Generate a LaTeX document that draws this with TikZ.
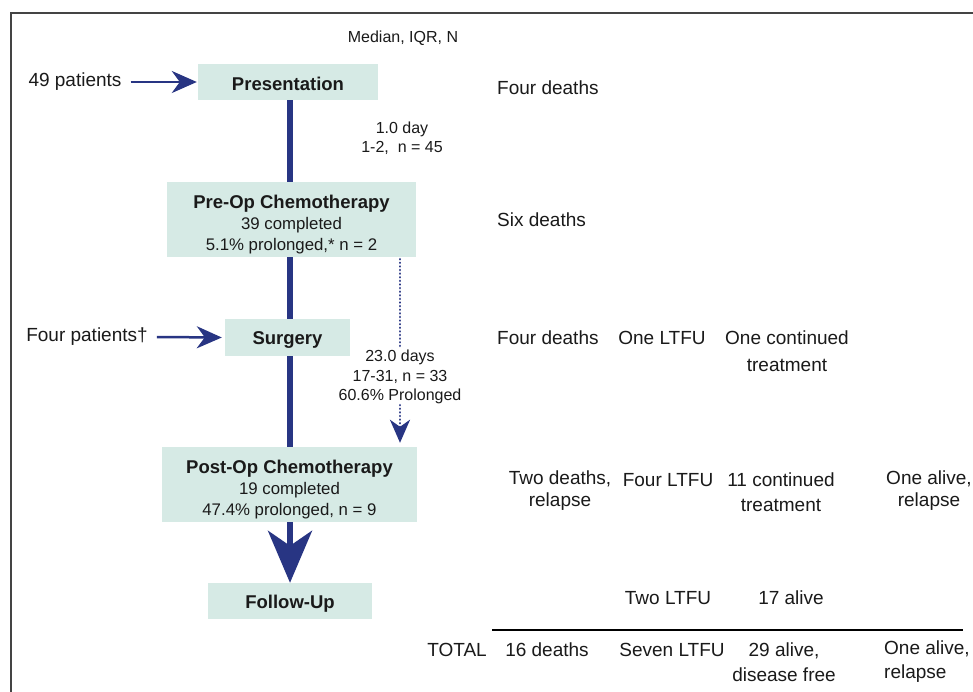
\documentclass[tikz,border=0pt]{standalone}
\usepackage{fontspec}
\setmainfont{Liberation Sans}
\usetikzlibrary{arrows.meta}
\definecolor{navy}{HTML}{283583}
\definecolor{boxfill}{HTML}{D6EAE5}
\definecolor{ink}{HTML}{1A1A1A}
\definecolor{framegray}{HTML}{444444}
\newcommand\boxtitlefont{\fontsize{18.5}{22}\selectfont\bfseries}
\newcommand\boxbodyfont{\fontsize{16.8}{21}\selectfont}
\begin{document}
\begin{tikzpicture}[x=1pt,y=-1pt,
  box/.style={fill=boxfill, inner sep=0pt},
  boxtxt/.style={inner sep=0pt, align=center, text=ink, font=\boxbodyfont},
  big/.style={font=\fontsize{19}{24}\selectfont, text=ink, inner sep=0pt, align=center},
  small/.style={font=\fontsize{16}{19.5}\selectfont, text=ink, inner sep=0pt, align=center},
  spine/.style={draw=navy, line width=5.5pt},
  feed/.style={draw=navy, line width=2.5pt, -{Stealth[length=25pt,width=22pt,inset=8pt]}},
  bigarrow/.style={draw=navy, line width=5.5pt, -{Stealth[length=52pt,width=44pt,inset=15pt]}},
  dotline/.style={draw=navy, line width=2.6pt, line cap=round, dash pattern=on 0.01pt off 3.6pt},
  dotarrow/.style={dotline, -{Stealth[length=23pt,width=20pt,inset=7pt]}}
]
\useasboundingbox (0,0) rectangle (973,692);
\clip (0,0) rectangle (973,692);
\fill[white] (0,0) rectangle (973,692);
\draw[framegray, line width=1.5pt] (11,700) -- (11,13) -- (985,13);

\coordinate (sp) at (290,0);
\coordinate (dx) at (400,0);

\node[small] (hdr) at (403,38) {Median, IQR, N};

% boxes
\node[box, minimum width=180pt, minimum height=36pt] (pres) at (288,82) {};
\node[boxtxt, font=\boxtitlefont] (presT) at ([yshift=-1.5pt]pres.center) {Presentation};
\node[box, minimum width=249pt, minimum height=75pt] (preop) at (291.5,219.5) {};
\node[boxtxt] (preopT) at ([yshift=-5pt]preop.center)
  {{\boxtitlefont Pre-Op Chemotherapy}\\39 completed\\5.1\% prolonged,* n = 2};
\node[box, minimum width=125pt, minimum height=37pt] (surg) at (287.5,337.5) {};
\node[boxtxt, font=\boxtitlefont] (surgT) at ([yshift=-3pt]surg.center) {Surgery};
\node[box, minimum width=255pt, minimum height=75pt] (postop) at (289.5,484.5) {};
\node[boxtxt] (postopT) at ([yshift=-5pt]postop.center)
  {{\boxtitlefont Post-Op Chemotherapy}\\19 completed\\47.4\% prolonged, n = 9};
\node[box, minimum width=164pt, minimum height=36pt] (fu) at (290,601) {};
\node[boxtxt, font=\boxtitlefont] (fuT) at ([yshift=-3pt]fu.center) {Follow-Up};

% spine
\draw[spine] (pres.south -| sp) -- (preop.north -| sp);
\draw[spine] (preop.south -| sp) -- (surg.north -| sp);
\draw[spine] (surg.south -| sp) -- (postop.north -| sp);
\draw[bigarrow] (postop.south -| sp) -- (fu.north -| sp);

% feeds
\node[big] (p49) at (75,82) {49 patients};
\draw[feed] ([xshift=9pt]p49.east) -- ([xshift=-1pt]pres.west);
\node[big] (p4) at (87,337) {Four patients†};
\draw[feed] ([xshift=9pt]p4.east) -- ([xshift=-3pt]surg.west);

% interval labels
\node[small] (int1) at (402,138) {1.0 day\\1-2,\ \ n = 45};
\node[small] (int2) at (400,377) {23.0 days\\17-31, n = 33\\60.6\% Prolonged};
\draw[dotline] ([yshift=-2pt]preop.south -| dx) -- ([yshift=1pt]int2.north -| dx);
\draw[dotarrow] ([yshift=-1pt]int2.south -| dx) -- ([yshift=4pt]postop.north -| dx);

% outcomes
\node[big, anchor=west] (o1) at (497,88) {Four deaths};
\node[big, anchor=west] (o2) at (497,220) {Six deaths};
\node[big, anchor=west] (o3a) at (497,338) {Four deaths};
\node[big] (o3b) at (662,338) {One LTFU};
\node[big] (o3c) at (787,351.5) {One continued\\[3pt]treatment};
\node[big, font=\fontsize{19}{22}\selectfont] (o4a) at (560,491) {Two deaths,\\relapse};
\node[big] (o4b) at (668,480) {Four LTFU};
\node[big, font=\fontsize{19}{25}\selectfont] (o4c) at (781,492.5) {11 continued\\treatment};
\node[big, font=\fontsize{19}{22}\selectfont] (o4d) at (929,491) {One alive,\\relapse};
\node[big] (o5b) at (668,598) {Two LTFU};
\node[big] (o5c) at (791,598) {17 alive};

\coordinate (ruleL) at (492,630);
\coordinate (ruleR) at (963,630);
\draw[black, line width=1.5pt] (ruleL) -- (ruleR);

\node[big] (tot) at (457,650) {TOTAL};
\node[big] (t1) at (547,650) {16 deaths};
\node[big] (t2) at (672,650) {Seven LTFU};
\node[big, font=\fontsize{19}{25}\selectfont] (t3) at (784,662.5) {29 alive,\\disease free};
\node[big, align=left, anchor=west, font=\fontsize{19}{24}\selectfont] (t4) at (884,662) {One alive,\\relapse};
\end{tikzpicture}
\end{document}
